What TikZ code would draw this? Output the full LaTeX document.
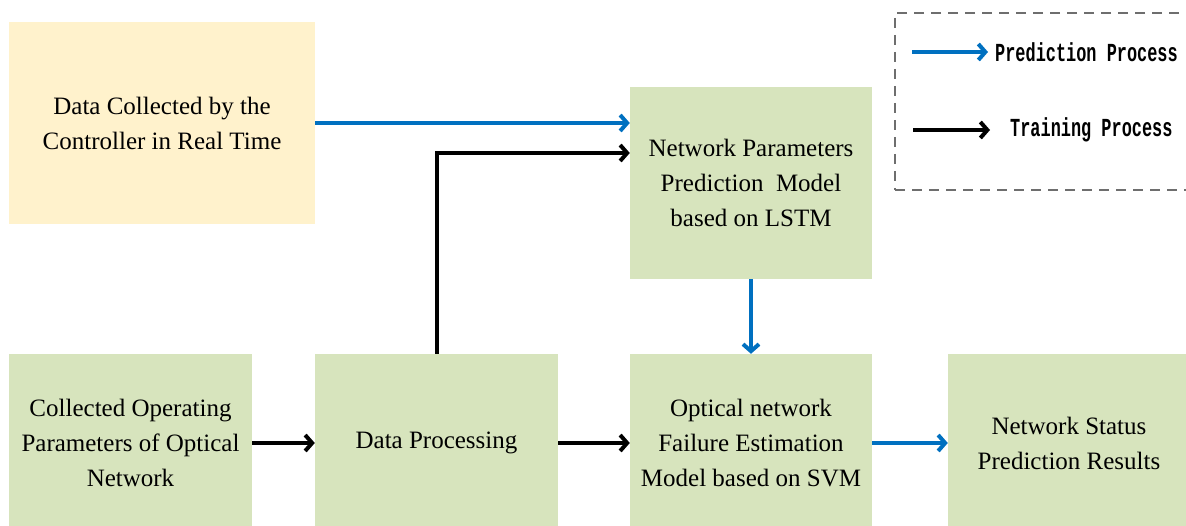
\documentclass[tikz,border=0pt]{standalone}
\usepackage{fontspec}
\setmainfont{Liberation Serif}
\setmonofont{Liberation Mono}
\usetikzlibrary{arrows.meta}

\definecolor{boxgreen}{HTML}{D7E4BD}
\definecolor{boxyellow}{HTML}{FFF2CC}
\definecolor{predblue}{HTML}{0070C0}
\definecolor{legendgray}{HTML}{6E6E6E}

\tikzstyle{block}=[fill=boxgreen, inner sep=0pt, align=center, font=\fontsize{25}{35}\selectfont]
\tikzstyle{pred}=[-{Straight Barb[length=7pt, width=16pt]}, line width=4pt, predblue]
\tikzstyle{train}=[-{Straight Barb[length=7pt, width=16pt]}, line width=4pt, black]
\tikzstyle{legtext}=[anchor=west, inner sep=0pt, font=\ttfamily\bfseries\fontsize{26}{26}\selectfont]
\newcommand{\narrow}[1]{\scalebox{0.65}[1]{#1}}

\begin{document}
\begin{tikzpicture}[x=1pt, y=-1pt]
    \useasboundingbox (0,0) rectangle (1186,526);
    \node[block, fill=boxyellow, minimum width=306pt, minimum height=202pt] (realtime) at (162, 123) {Data Collected by the\\Controller in Real Time};
    \node[block, minimum width=242pt, minimum height=192pt] (lstm) at (751, 183) {Network Parameters\\Prediction~ Model\\based on LSTM};
    \node[block, minimum width=243pt, minimum height=178pt] (params) at (130.5, 443) {Collected Operating\\Parameters of Optical\\Network};
    \node[block, minimum width=243pt, minimum height=178pt] (process) at (436.5, 443) {Data Processing};
    \node[block, minimum width=242pt, minimum height=178pt] (svm) at (751, 443) {Optical network\\Failure Estimation\\Model based on SVM};
    \node[block, minimum width=242pt, minimum height=178pt] (status) at (1069, 443) {Network Status\\Prediction Results};
    % legend
    \node[draw=legendgray, line width=2pt, dash pattern=on 10pt off 7pt, minimum width=300pt, minimum height=177pt] (legend) at (1045, 101.5) {};
    \node[legtext] (predtext) at (995, 52) {\narrow{Prediction Process}};
    \node[legtext] (traintext) at (1010, 130) {\narrow{Training Process}};
    \coordinate (predstart) at (912, 52);
    \coordinate (trainstart) at (913, 130);
    \draw[pred] (predstart) -- ([xshift=-7pt]predtext.west);
    \draw[train] (trainstart) -- ([xshift=-20pt]traintext.west);
    % arrows
    \draw[pred] (realtime.east) -- (realtime.east -| lstm.west);
    \draw[train] (process.north) |- ([yshift=30pt]lstm.west);
    \draw[pred] (lstm.south) -- (svm.north);
    \draw[train] (params.east) -- (process.west);
    \draw[train] (process.east) -- (svm.west);
    \draw[pred] (svm.east) -- (status.west);
  \end{tikzpicture}
\end{document}
